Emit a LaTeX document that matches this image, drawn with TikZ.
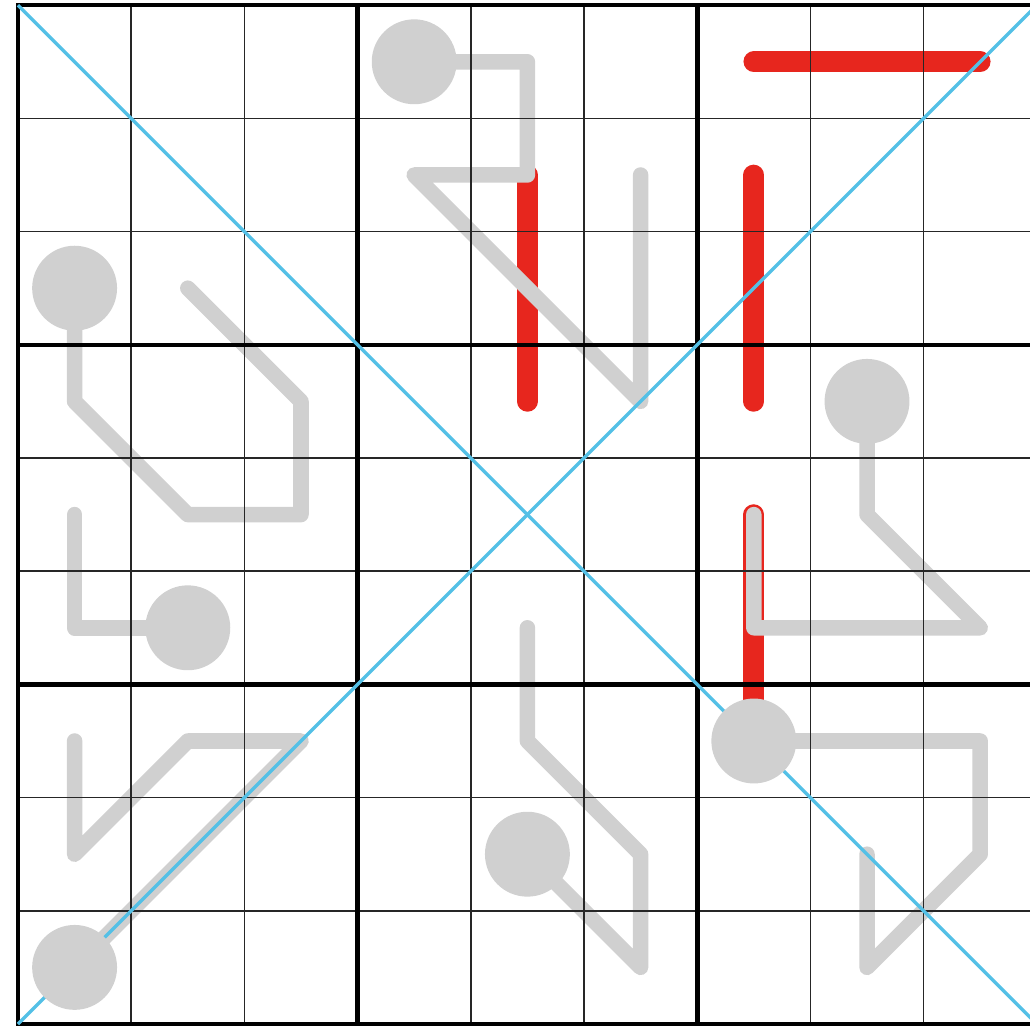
\documentclass[tikz,border=0pt]{standalone}
\definecolor{thermogray}{RGB}{208,208,208}
\definecolor{renred}{RGB}{231,38,30}
\definecolor{diagblue}{RGB}{84,192,230}
\tikzset{
  thermo/.style={line width=3.9pt, draw=thermogray, line cap=round, line join=round},
  bulb/.style={circle, fill=thermogray, minimum size=0.75cm, inner sep=0pt},
  renban/.style={line width=5.2pt, draw=renred, line cap=round},
  gridthin/.style={line width=0.4pt, draw=black!85},
  gridthick/.style={line width=1.15pt, draw=black, line cap=rect},
  diag/.style={line width=0.85pt, draw=diagblue},
}
\begin{document}
\begin{tikzpicture}
\useasboundingbox (-0.159,-0.0265) rectangle (8.940,9.046);
\clip (-0.159,-0.0265) rectangle (8.940,9.046);
% cell centres: p<row><col>
\foreach \r in {1,...,9}{
  \foreach \c in {1,...,9}{
    \coordinate (p\r\c) at ({\c-0.5},{9.5-\r});
  }
}
\coordinate (gtl) at (0,9);
\coordinate (gtr) at (9,9);
\coordinate (gbl) at (0,0);
\coordinate (gbr) at (9,0);
% renban lines
\draw[renban] (p17) -- (p19);
\draw[renban] (p25) -- (p45);
\draw[renban] (p27) -- (p47);
\draw[renban] (p57) -- (p77);
% thermometer stems
\draw[thermo] (p14) -- (p15) -- (p25) -- (p24) -- (p46) -- (p26);
\draw[thermo] (p31) -- (p41) -- (p52) -- (p53) -- (p43) -- (p32);
\draw[thermo] (p62) -- (p61) -- (p51);
\draw[thermo] (p91) -- (p73) -- (p72) -- (p81) -- (p71);
\draw[thermo] (p85) -- (p96) -- (p86) -- (p75) -- (p65);
\draw[thermo] (p48) -- (p58) -- (p69) -- (p67) -- (p57);
\draw[thermo] (p77) -- (p79) -- (p89) -- (p98) -- (p88);
% grid
\foreach \i in {1,2,4,5,7,8}{
  \draw[gridthin] (\i,0) -- (\i,9);
  \draw[gridthin] (0,\i) -- (9,\i);
}
\foreach \i in {0,3,6,9}{
  \draw[gridthick] (\i,0) -- (\i,9);
  \draw[gridthick] (0,\i) -- (9,\i);
}
% diagonals
\draw[diag] (gtl) -- (gbr);
\draw[diag] (gbl) -- (gtr);
% bulbs
\node[bulb] (b1) at (p14) {};
\node[bulb] (b2) at (p31) {};
\node[bulb] (b3) at (p62) {};
\node[bulb] (b4) at (p91) {};
\node[bulb] (b5) at (p85) {};
\node[bulb] (b6) at (p48) {};
\node[bulb] (b7) at (p77) {};
\end{tikzpicture}
\end{document}
